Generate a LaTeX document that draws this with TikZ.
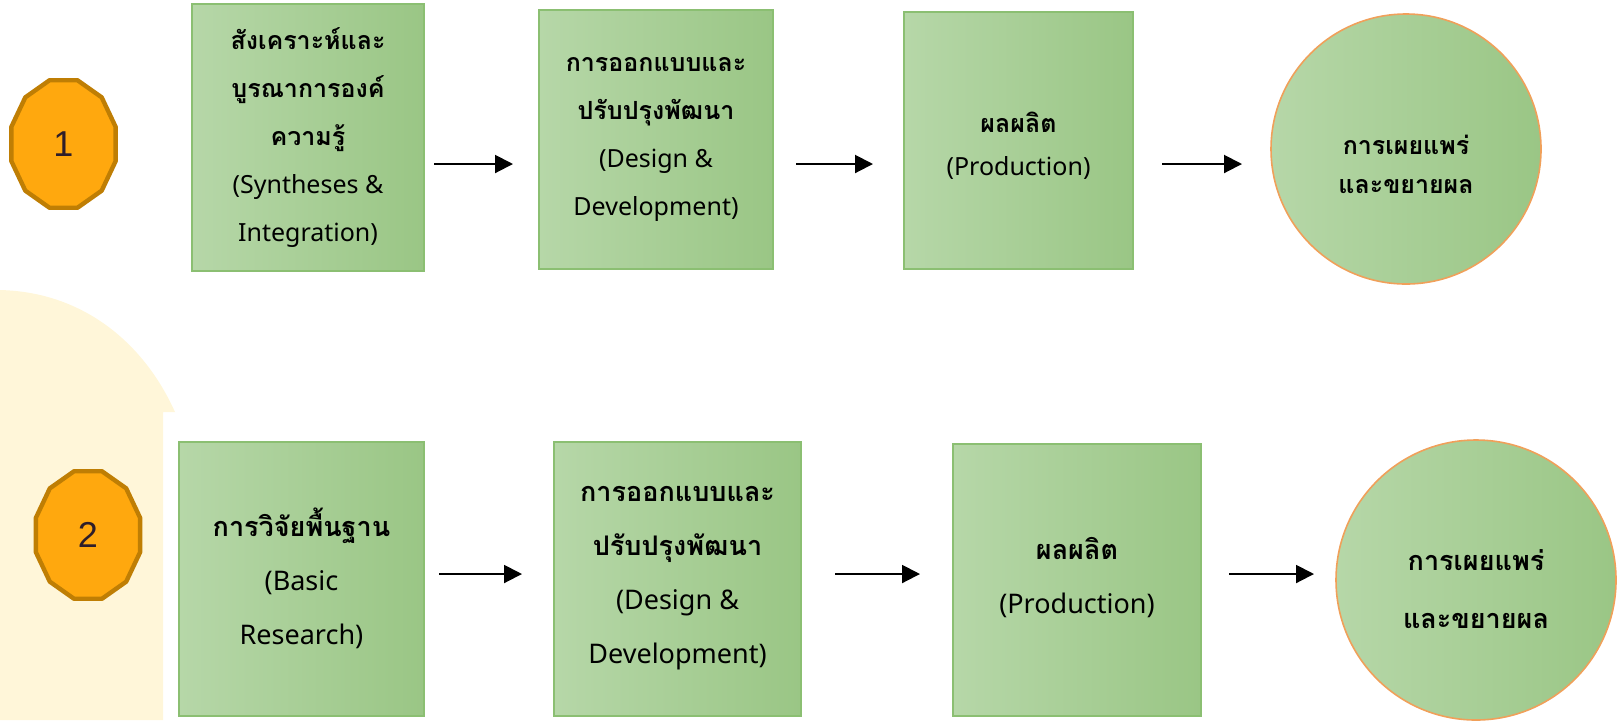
\documentclass[tikz,border=0pt]{standalone}
\usepackage{fontspec}
\setmainfont{Liberation Sans}
\newfontfamily\thai[Script=Thai]{Loma}
\newfontfamily\lat{Noto Sans}
\usetikzlibrary{arrows.meta}
\definecolor{beige}{HTML}{FFF6D9}
\definecolor{badgefill}{HTML}{FFA80E}
\definecolor{badgeline}{HTML}{BF7E04}
\definecolor{gleft}{HTML}{B6D7A8}
\definecolor{gright}{HTML}{9AC685}
\definecolor{gline}{HTML}{8BBF72}
\definecolor{cline}{HTML}{F0A05A}
\definecolor{numc}{HTML}{2E1E2A}
\tikzset{
  box/.style={rectangle, draw=gline, line width=1pt, left color=gleft, right color=gright, inner sep=0pt},
  circ/.style={circle, draw=cline, line width=0.8pt, left color=gleft, right color=gright, inner sep=0pt},
  txt/.style={align=center, font=\thai\fontsize{12.5}{24}\selectfont, inner sep=0pt},
  txtb/.style={align=center, font=\thai\fontsize{13.5}{27}\selectfont, inner sep=0pt},
  badge/.style={draw=badgeline, fill=badgefill, line width=2.2pt, line join=round},
  num/.style={font=\fontsize{18}{20}\selectfont, text=numc, inner sep=0pt},
  arr/.style={-{Triangle[length=9pt,width=9pt]}, line width=1pt, black}
}
\begin{document}
\begin{tikzpicture}[x=0.5pt, y=-0.5pt]
\useasboundingbox (0,0) rectangle (1620,720);
% beige background shape
\fill[beige] (0,290) .. controls (85,292) and (145,345) .. (175,412) -- (163,412) -- (163,720) -- (0,720) -- cycle;
% badges
\draw[badge, shift={(63.5,144)}] (15:54 and 66) -- (45:54 and 66) -- (75:54 and 66) -- (105:54 and 66) -- (135:54 and 66) -- (165:54 and 66) -- (195:54 and 66) -- (225:54 and 66) -- (255:54 and 66) -- (285:54 and 66) -- (315:54 and 66) -- (345:54 and 66) -- cycle;
\node[num] (n1) at (63.5,144) {1};
\draw[badge, shift={(88,535)}] (15:54 and 66) -- (45:54 and 66) -- (75:54 and 66) -- (105:54 and 66) -- (135:54 and 66) -- (165:54 and 66) -- (195:54 and 66) -- (225:54 and 66) -- (255:54 and 66) -- (285:54 and 66) -- (315:54 and 66) -- (345:54 and 66) -- cycle;
\node[num] (n2) at (88,535) {2};
% row 1
\node[box, minimum width=116pt, minimum height=133.5pt] (b1) at (308,137.5) {};
\node[txt] (t1) at (308,138) {\textbf{สังเคราะห์และ}\\\textbf{บูรณาการองค์}\\\textbf{ความรู้}\\{\lat (Syntheses \&}\\{\lat Integration)}};
\node[box, minimum width=117pt, minimum height=129.5pt] (b2) at (656,139.5) {};
\node[txt] (t2) at (656,139) {\textbf{การออกแบบและ}\\\textbf{ปรับปรุงพัฒนา}\\{\lat (Design \&}\\{\lat Development)}};
\node[box, minimum width=114.5pt, minimum height=128.5pt] (b3) at (1018.5,140.5) {};
\node[txt, font=\thai\fontsize{12.5}{21.5}\selectfont] (t3) at (1018.5,146) {\textbf{ผลผลิต}\\{\lat (Production)}};
\node[circ, minimum size=135pt] (c1) at (1406,149) {};
\node[txt, font=\thai\fontsize{12.5}{19.5}\selectfont] (t4) at (1406,164) {\textbf{การเผยแพร่}\\\textbf{และขยายผล}};
% row 2
\node[box, minimum width=122.5pt, minimum height=137pt] (d1) at (301.5,579) {};
\node[txtb] (s1) at (301.5,578) {\textbf{การวิจัยพื้นฐาน}\\{\lat (Basic}\\{\lat Research)}};
\node[box, minimum width=123.5pt, minimum height=137pt] (d2) at (677.5,579) {};
\node[txtb] (s2) at (677.5,578) {\textbf{การออกแบบและ}\\\textbf{ปรับปรุงพัฒนา}\\{\lat (Design \&}\\{\lat Development)}};
\node[box, minimum width=124pt, minimum height=136pt] (d3) at (1077,580) {};
\node[txtb] (s3) at (1077,578) {\textbf{ผลผลิต}\\{\lat (Production)}};
\node[circ, minimum size=140pt] (c2) at (1476,580) {};
\node[txtb, font=\thai\fontsize{13.5}{29}\selectfont] (s4) at (1476,589) {\textbf{การเผยแพร่}\\\textbf{และขยายผล}};
% arrows row 1
\coordinate (a1s) at (434,164); \coordinate (a1e) at (513,164);
\coordinate (a2s) at (796,164); \coordinate (a2e) at (873,164);
\coordinate (a3s) at (1162,164); \coordinate (a3e) at (1242,164);
\draw[arr] (a1s) -- (a1e);
\draw[arr] (a2s) -- (a2e);
\draw[arr] (a3s) -- (a3e);
% arrows row 2
\coordinate (e1s) at (439,574); \coordinate (e1e) at (522,574);
\coordinate (e2s) at (835,574); \coordinate (e2e) at (920,574);
\coordinate (e3s) at (1229,574); \coordinate (e3e) at (1314,574);
\draw[arr] (e1s) -- (e1e);
\draw[arr] (e2s) -- (e2e);
\draw[arr] (e3s) -- (e3e);
\end{tikzpicture}
\end{document}
